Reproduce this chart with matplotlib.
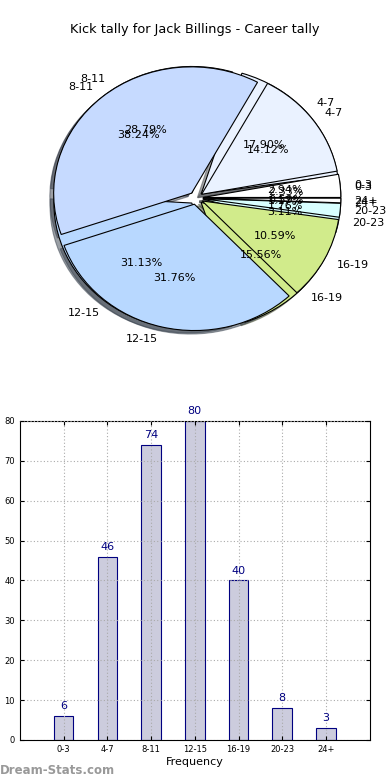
import numpy as np
import matplotlib
matplotlib.use('Agg')
import matplotlib.pyplot as plt

# kick ranges and tallies
categories = ['0-3', '4-7', '8-11', '12-15', '16-19', '20-23', '24+']
career_counts = [6, 46, 74, 80, 40, 8, 3]      # career tally (bars + first pie)
other_counts = [5, 24, 65, 54, 18, 3, 1]       # second pie, drawn over the first
slice_colors = ['#ffffff', '#eaf2ff', '#c6daff', '#b8d8ff', '#d1eb8b', '#d9ffff', '#ffffff']

fig = plt.figure(figsize=(3.9, 7.8), dpi=100)

# ---- pie part ----
ax = fig.add_axes([0.0606, 0.5436, 0.884, 0.405])
explode = [0.05] * len(categories)
for counts in (career_counts, other_counts):
    ax.pie(counts, labels=categories, colors=slice_colors, explode=explode,
           autopct='%1.2f%%', shadow=True, startangle=0,
           wedgeprops={'edgecolor': 'black', 'linewidth': 0.8},
           textprops={'fontsize': 8})
ax.set_aspect('auto')
ax.set_xlim(-1.25, 1.25)
ax.set_ylim(-1.25, 1.25)
fig.text(0.5, 0.962, 'Kick tally for Jack Billings - Career tally',
         ha='center', va='center', fontsize=9.3)

# ---- bar part ----
ax2 = fig.add_axes([0.051, 0.0513, 0.897, 0.409])
x = np.arange(len(categories))
bars = ax2.bar(x, career_counts, width=0.45, color='#ccccdd', edgecolor='#000080', linewidth=0.8)
for xi, v in zip(x, career_counts):
    ax2.text(xi, v + 1.2, str(v), ha='center', va='bottom', color='#000080', fontsize=8)
ax2.set_xlim(-1, 7)
ax2.set_ylim(0, 80)
ax2.set_xticks(x)
ax2.set_xticklabels(categories, fontsize=6)
ax2.set_yticks(np.arange(0, 81, 10))
ax2.tick_params(axis='y', labelsize=6)
ax2.tick_params(direction='in', top=True, right=True, length=3)
ax2.grid(True, linestyle=(0, (1, 2)), color='#aaaaaa', linewidth=0.8)
ax2.set_axisbelow(False)
ax2.set_xlabel('Frequency', fontsize=8, labelpad=2)

fig.text(0.0, 0.012, 'Dream-Stats.com', color='#999999', fontsize=8.5,
         fontweight='bold', ha='left', va='center')

fig.savefig('out.png', dpi=100)
